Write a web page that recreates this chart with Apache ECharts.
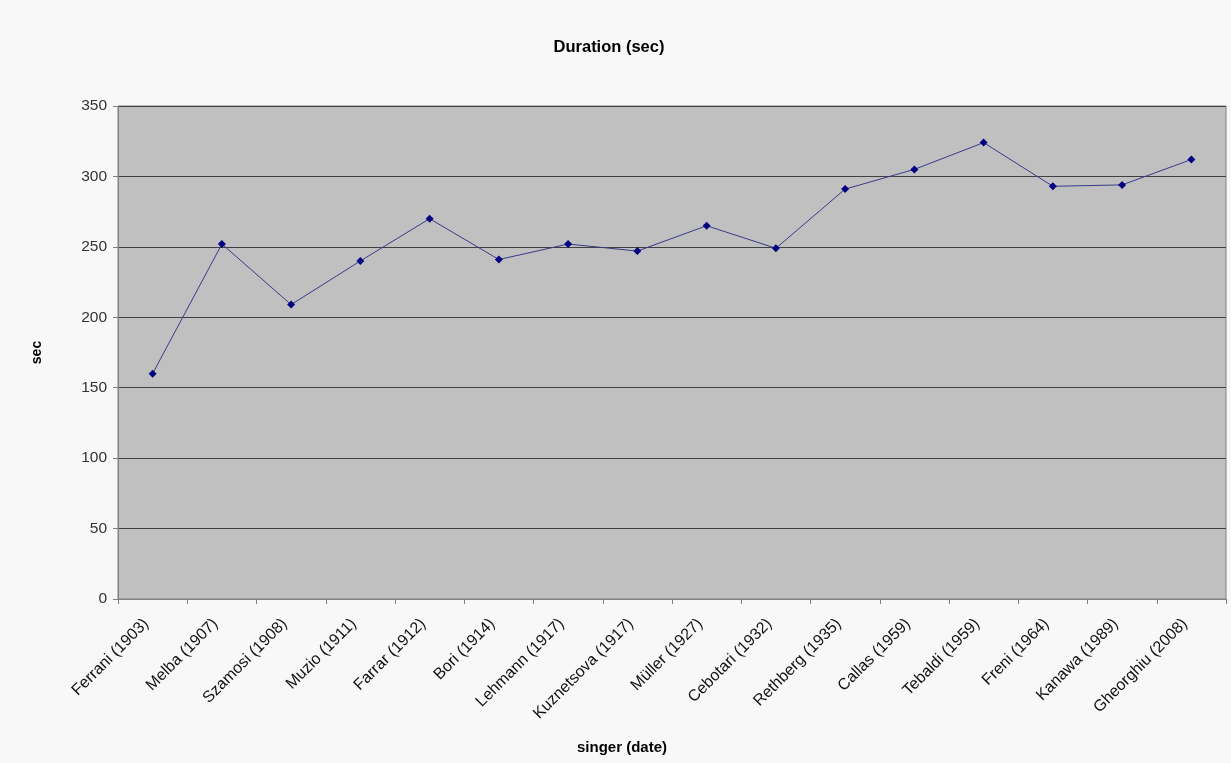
<!DOCTYPE html>
<html>
<head>
<meta charset="utf-8">
<script src="https://cdn.jsdelivr.net/npm/echarts@6/dist/echarts.min.js"></script>
<style>
  html, body { margin: 0; padding: 0; background: #f8f8f8; }
  #chart { width: 1231px; height: 763px; }
</style>
</head>
<body>
<div id="chart"></div>
<script>
// Recordings and their durations in seconds
const singers = [
  'Ferrani (1903)', 'Melba (1907)', 'Szamosi (1908)', 'Muzio (1911)',
  'Farrar (1912)', 'Bori (1914)', 'Lehmann (1917)', 'Kuznetsova (1917)',
  'Müller (1927)', 'Cebotari (1932)', 'Rethberg (1935)', 'Callas (1959)',
  'Tebaldi (1959)', 'Freni (1964)', 'Kanawa (1989)', 'Gheorghiu (2008)'
];
const durations = [160, 252, 209, 240, 270, 241, 252, 247, 265, 249, 291, 305, 324, 293, 294, 312];

const FONT = '"Liberation Sans", Arial, sans-serif';

const chart = echarts.init(document.getElementById('chart'), null, { renderer: 'canvas' });
chart.setOption({
  backgroundColor: '#f8f8f8',
  animation: false,
  title: [{
    text: 'Duration (sec)',
    left: 604,
    top: 34,
    textAlign: 'center',
    textStyle: { fontFamily: FONT, fontSize: 16.5, fontWeight: 'bold', color: '#000' }
  }, {
    text: 'singer (date)',
    left: 617,
    top: 735,
    textAlign: 'center',
    textStyle: { fontFamily: FONT, fontSize: 15, fontWeight: 'bold', color: '#000' }
  }],
  grid: {
    left: 118, right: 5, top: 106, bottom: 164,
    show: true,
    backgroundColor: '#c0c0c0',
    borderColor: '#808080',
    borderWidth: 1
  },
  xAxis: {
    type: 'category',
    data: singers,
    boundaryGap: true,
    axisLine: { lineStyle: { color: '#808080', width: 1 } },
    axisTick: { show: true, alignWithLabel: false, length: 5, lineStyle: { color: '#808080' } },
    axisLabel: {
      rotate: 45,
      interval: 0,
      margin: 16,
      padding: [0, 9, 0, 0],
      fontFamily: FONT,
      fontSize: 16,
      color: '#111'
    },
    splitLine: { show: false }
  },
  yAxis: {
    type: 'value',
    min: 0,
    max: 350,
    interval: 50,
    name: 'sec',
    nameLocation: 'middle',
    nameGap: 74,
    nameRotate: 90,
    nameTextStyle: { fontFamily: FONT, fontSize: 14, fontWeight: 'bold', color: '#000' },
    axisLine: { show: true, lineStyle: { color: '#808080', width: 1 } },
    axisTick: { show: true, length: 5, lineStyle: { color: '#808080' } },
    axisLabel: { fontFamily: FONT, fontSize: 15.5, color: '#333', margin: 11 },
    splitLine: { show: true, lineStyle: { color: '#404040', width: 1 } }
  },
  series: [{
    type: 'line',
    data: durations,
    symbol: 'diamond',
    symbolSize: 8,
    itemStyle: { color: '#000080' },
    lineStyle: { color: '#3a3a8a', width: 1 }
  }]
});
</script>
</body>
</html>
